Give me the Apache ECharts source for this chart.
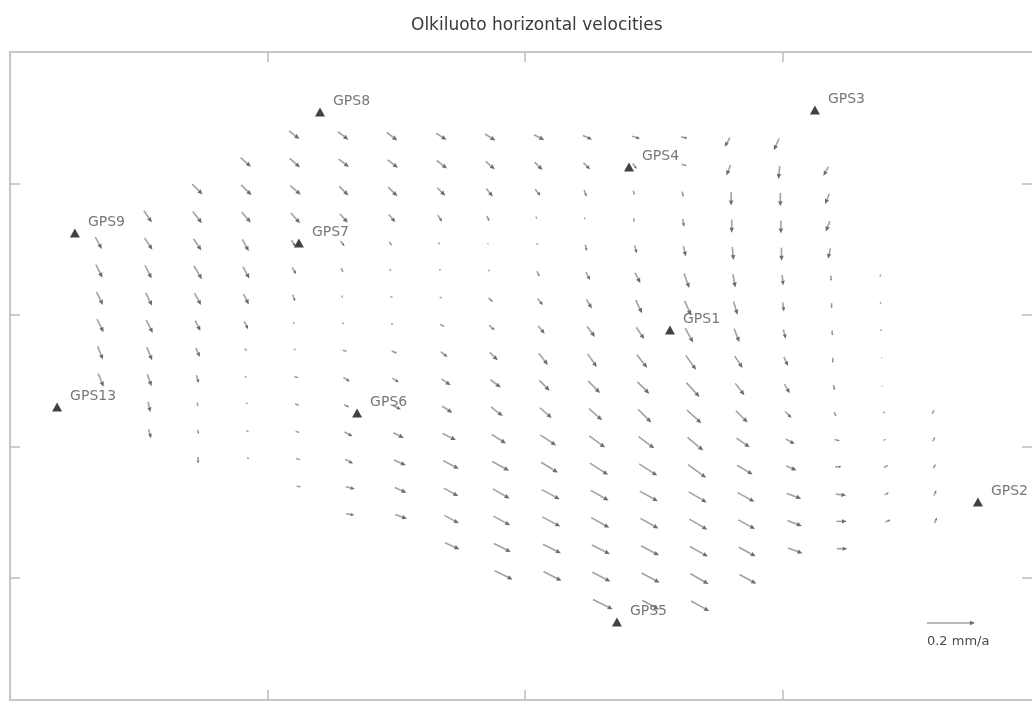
<!DOCTYPE html>
<html>
<head>
<meta charset="utf-8">
<script src="https://cdn.jsdelivr.net/npm/echarts@6/dist/echarts.min.js"></script>
<style>html,body{margin:0;padding:0;background:#fff}#c{width:1032px;height:704px}</style>
</head>
<body>
<div id="c"></div>
<script>
const _ = null;
// velocity grid (local metric coordinates, m); the grid is slightly rotated
const colX = [322, 513, 703, 893, 1084, 1274, 1464, 1655, 1845, 2035, 2225, 2416, 2606, 2796, 2987, 3177, 3367, 3558];
const rowY = [4422, 4214, 4007, 3799, 3592, 3384, 3176, 2969, 2761, 2554, 2346, 2138, 1931, 1723, 1516, 1308, 1100, 893];
const rowSkewX = 2.3;   // m of x shift per row
const colSkewY = -5.7;  // m of y shift per column
// east component (µm/a) per row, per column
const velE = [
  [_,_,_,_,43,43,43,43,43,43,38,33,27,-22,-22,_,_,_],
  [_,_,_,43,43,43,43,43,38,33,27,17,22,-17,-5,-22,_,_],
  [_,_,43,43,43,38,38,33,27,22,10,5,5,0,0,-17,_,_],
  [_,33,38,38,38,33,27,17,10,5,0,0,5,0,0,-17,_,_],
  [27,33,33,27,17,17,10,5,5,10,5,10,10,5,0,-10,_,_],
  [27,27,33,27,17,10,5,10,10,10,17,22,22,10,5,0,5,_],
  [27,27,27,22,10,5,10,10,17,22,22,27,27,17,5,0,0,_],
  [27,27,22,17,5,10,10,17,22,27,33,33,33,22,10,0,0,_],
  [22,22,17,10,10,17,22,27,33,38,38,43,43,33,17,0,0,_],
  [22,17,10,5,17,27,27,38,43,43,49,49,55,38,22,5,0,_],
  [_,10,5,10,17,22,33,43,49,49,55,55,60,49,27,10,10,10],
  [_,10,5,10,17,33,43,55,60,65,65,65,65,55,38,22,10,10],
  [_,_,0,10,17,33,49,65,70,70,75,75,75,65,43,27,17,10],
  [_,_,_,_,17,38,49,60,70,75,75,75,75,70,60,43,17,10],
  [_,_,_,_,_,33,49,60,70,75,75,75,75,70,60,43,22,10],
  [_,_,_,_,_,_,_,60,70,75,75,75,75,70,60,43,_,_],
  [_,_,_,_,_,_,_,_,75,75,75,75,75,70,_,_,_,_],
  [_,_,_,_,_,_,_,_,_,_,82,70,75,_,_,_,_,_]
];
// north component (µm/a) per row, per column
const velN = [
  [_,_,_,_,-33,-33,-33,-27,-27,-22,-17,-10,-5,-38,-49,_,_,_],
  [_,_,_,-38,-38,-33,-33,-33,-33,-33,-27,-22,-5,-43,-55,-38,_,_],
  [_,_,-43,-43,-38,-38,-38,-33,-33,-27,-27,-17,-22,-55,-55,-43,_,_],
  [_,-49,-49,-43,-43,-38,-33,-27,-22,-10,-10,-17,-33,-55,-55,-43,_,_],
  [-49,-49,-49,-49,-27,-22,-17,-10,-5,0,-27,-33,-43,-55,-55,-43,_,_],
  [-55,-55,-55,-49,-27,-17,-10,0,0,-22,-33,-43,-60,-55,-43,-22,10,_],
  [-55,-55,-49,-43,-27,-10,-5,-5,-17,-27,-38,-55,-60,-55,-38,-22,10,_],
  [-55,-55,-43,-33,-10,-5,-5,-10,-22,-33,-43,-49,-60,-55,-38,-22,10,_],
  [-55,-55,-38,-10,0,-5,-10,-22,-33,-49,-55,-55,-60,-49,-38,-22,5,_],
  [-55,-49,-33,-10,-5,-17,-17,-27,-33,-43,-49,-49,-60,-49,-38,-22,-5,_],
  [_,-43,-17,0,-5,-10,-17,-27,-38,-43,-49,-55,-55,-49,-27,-17,5,17],
  [_,-38,-17,-5,-5,-17,-22,-27,-38,-43,-49,-49,-55,-38,-22,-5,5,17],
  [_,_,-27,-5,-5,-17,-22,-33,-38,-43,-49,-49,-55,-38,-17,0,10,17],
  [_,_,_,_,-5,-10,-22,-33,-40,-40,-42,-42,-44,-38,-22,-5,10,22],
  [_,_,_,_,_,-5,-17,-33,-38,-40,-42,-42,-44,-38,-22,0,10,22],
  [_,_,_,_,_,_,_,-27,-36,-38,-38,-40,-42,-38,-22,0,_,_],
  [_,_,_,_,_,_,_,_,-36,-38,-38,-40,-42,-38,_,_,_,_],
  [_,_,_,_,_,_,_,_,_,_,-40,-38,-42,_,_,_,_,_]
];
const stationNames = ['GPS8','GPS3','GPS4','GPS9','GPS7','GPS1','GPS13','GPS6','GPS2','GPS5'];
const stationX = [1204, 3126, 2404, 252, 1122, 2563, 183, 1348, 3759, 2357];
const stationY = [4544, 4559, 4125, 3624, 3548, 2886, 2300, 2255, 1578, 665];
const keySpeed = 200; // µm/a
const keyLabel = '0.2 mm/a';
const titleText = 'Olkiluoto horizontal velocities';
const xTicks = [1000, 2000, 3000];
const yTicks = [1000, 2000, 3000, 4000];

const PX_PER_UM = 48 / keySpeed;

const vecData = [];
for (let r = 0; r < rowY.length; r++) {
  for (let c = 0; c < colX.length; c++) {
    if (velE[r][c] !== null && velN[r][c] !== null) {
      vecData.push([colX[c] + r * rowSkewX, rowY[r] + c * colSkewY, velE[r][c], velN[r][c]]);
    }
  }
}

function arrowShapes(p, e, n) {
  const dx = e * PX_PER_UM, dy = -n * PX_PER_UM;
  const len = Math.sqrt(dx * dx + dy * dy);
  if (len < 0.3) return [];
  const ux = dx / len, uy = dy / len;
  const hl = Math.min(5, len * 0.45), hw = hl * 0.45;
  const ex = p[0] + dx, ey = p[1] + dy;
  const bx = ex - ux * hl, by = ey - uy * hl;
  return [
    {type: 'line', shape: {x1: p[0], y1: p[1], x2: bx, y2: by}, style: {stroke: '#a2a2a2', lineWidth: 1.6}},
    {type: 'polygon', shape: {points: [[ex, ey], [bx - uy * hw, by + ux * hw], [bx + uy * hw, by - ux * hw]]}, style: {fill: '#6c6c6c'}}
  ];
}

const chart = echarts.init(document.getElementById('c'), null, {renderer: 'canvas'});
const axisLineStyle = {color: '#c6c6c6', width: 2};
const tickStyle = {color: '#bdbdbd', width: 1.5};
function xAx(pos) {
  return {type: 'value', position: pos, min: 0, max: 3969, interval: 1000,
    axisLine: {show: true, onZero: false, lineStyle: axisLineStyle},
    axisTick: {show: true, inside: true, length: 10, lineStyle: tickStyle, customValues: xTicks},
    axisLabel: {show: false}, splitLine: {show: false}};
}
function yAx(pos, showLine) {
  return {type: 'value', position: pos, min: 72, max: 5000,
    axisLine: {show: showLine, onZero: false, lineStyle: axisLineStyle},
    axisTick: {show: true, inside: true, length: 10, lineStyle: tickStyle, customValues: yTicks},
    axisLabel: {show: false}, splitLine: {show: false}};
}
chart.setOption({
  backgroundColor: '#ffffff',
  animation: false,
  title: {text: titleText, left: 406, top: 12,
    textStyle: {fontFamily: 'DejaVu Sans', fontSize: 17, fontWeight: 'normal', color: '#3a3a3a'}},
  grid: {left: 10, top: 52, right: 0, height: 648},
  xAxis: [xAx('bottom'), xAx('top')],
  yAxis: [yAx('left', true), yAx('right', false)],
  series: [
    {type: 'custom', name: 'velocity', xAxisIndex: 0, yAxisIndex: 0, data: vecData,
      renderItem: function (params, api) {
        const p = api.coord([api.value(0), api.value(1)]);
        return {type: 'group', children: arrowShapes(p, api.value(2), api.value(3))};
      }},
    {type: 'custom', name: 'key', xAxisIndex: 0, yAxisIndex: 0, data: [[3561, 658, keySpeed, 0]],
      renderItem: function (params, api) {
        const p = api.coord([api.value(0), api.value(1)]);
        const ch = arrowShapes(p, api.value(2), api.value(3));
        ch.push({type: 'text', x: p[0], y: p[1] + 19,
          style: {text: keyLabel, fill: '#4a4a4a', font: '13px "DejaVu Sans"', align: 'left', verticalAlign: 'middle'}});
        return {type: 'group', children: ch};
      }},
    {type: 'scatter', name: 'GPS', xAxisIndex: 0, yAxisIndex: 0, symbol: 'triangle', symbolSize: [10, 9],
      itemStyle: {color: '#111111'},
      data: stationNames.map((nm, i) => ({name: nm, value: [stationX[i], stationY[i]]})),
      label: {show: true, formatter: '{b}', position: 'right', distance: 8, offset: [0, -11],
        fontFamily: 'DejaVu Sans', fontSize: 14, color: '#555555'}}
  ]
});
</script>
</body>
</html>
